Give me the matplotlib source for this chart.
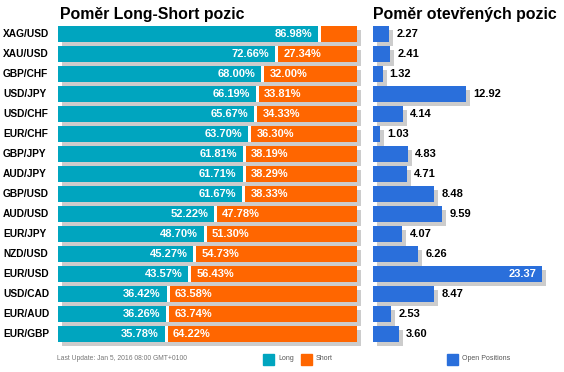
import matplotlib
matplotlib.use("Agg")
import matplotlib.pyplot as plt
import matplotlib.transforms as mtransforms
from matplotlib.patches import Rectangle

# data
pairs = ["XAG/USD", "XAU/USD", "GBP/CHF", "USD/JPY", "USD/CHF", "EUR/CHF",
         "GBP/JPY", "AUD/JPY", "GBP/USD", "AUD/USD", "EUR/JPY", "NZD/USD",
         "EUR/USD", "USD/CAD", "EUR/AUD", "EUR/GBP"]
long_pct = [86.98, 72.66, 68.00, 66.19, 65.67, 63.70, 61.81, 61.71,
            61.67, 52.22, 48.70, 45.27, 43.57, 36.42, 36.26, 35.78]
short_pct = [13.02, 27.34, 32.00, 33.81, 34.33, 36.30, 38.19, 38.29,
             38.33, 47.78, 51.30, 54.73, 56.43, 63.58, 63.74, 64.22]
open_pos = [2.27, 2.41, 1.32, 12.92, 4.14, 1.03, 4.83, 4.71,
            8.48, 9.59, 4.07, 6.26, 23.37, 8.47, 2.53, 3.60]

TEAL = "#00a5bf"
ORANGE = "#ff6600"
BLUE = "#2a6fdb"
SHADOW = "#cccccc"
FONT = "Liberation Sans"

W, H = 564, 372
fig = plt.figure(figsize=(W / 100, H / 100), dpi=100)


def px_axes(x0, y0, w, h):
    # osy zadane v pixelech od leveho horniho rohu
    return fig.add_axes([x0 / W, 1 - (y0 + h) / H, w / W, h / H])


def ftext(x, y, s, **kw):
    kw.setdefault("family", FONT)
    fig.text(x / W, 1 - y / H, s, **kw)


n = len(pairs)
rows = list(range(n))
bh = 0.83
gap = 1.0  # mezera mezi long a short (data units)

# levy panel - pomer long/short
ax1 = px_axes(58, 24, 299, 20 * n)
ax1.set_xlim(0, 100)
ax1.set_ylim(n - 0.5, -0.5)
ax1.axis("off")
sh1 = mtransforms.offset_copy(ax1.transData, fig=fig, x=4, y=-4, units="dots")
ax1.barh(rows, [l + s for l, s in zip(long_pct, short_pct)], height=bh,
         color=SHADOW, transform=sh1, clip_on=False, zorder=1)
ax1.barh(rows, long_pct, height=bh, color=TEAL, zorder=2)
ax1.barh(rows, [s - gap for s in short_pct], left=[l + gap for l in long_pct],
         height=bh, color=ORANGE, zorder=2)
ax1.barh(rows, [gap] * n, left=long_pct, height=bh, color="white", zorder=2)
for i, (l, s) in enumerate(zip(long_pct, short_pct)):
    ax1.annotate(f"{l:.2f}%", (l, i), xytext=(-6, 0), textcoords="offset pixels",
                 ha="right", va="center", color="white", fontsize=8,
                 fontweight="bold", family=FONT, zorder=3)
    if s > 15:
        ax1.annotate(f"{s:.2f}%", (l + gap, i), xytext=(5, 0),
                     textcoords="offset pixels", ha="left", va="center",
                     color="white", fontsize=8, fontweight="bold",
                     family=FONT, zorder=3)
    ftext(3, 34 + 20 * i, pairs[i], ha="left", va="center", fontsize=7.3,
          fontweight="bold", color="black")

# pravy panel - otevrene pozice
ax2 = px_axes(373, 24, 180, 20 * n)
ax2.set_xlim(0, 180 / 7.22)
ax2.set_ylim(n - 0.5, -0.5)
ax2.axis("off")
sh2 = mtransforms.offset_copy(ax2.transData, fig=fig, x=4, y=-4, units="dots")
ax2.barh(rows, open_pos, height=bh, color=SHADOW, transform=sh2,
         clip_on=False, zorder=1)
ax2.barh(rows, open_pos, height=bh, color=BLUE, zorder=2)
vmax = max(open_pos)
for i, v in enumerate(open_pos):
    if v == vmax:
        ax2.annotate(f"{v:.2f}", (v, i), xytext=(-5, 0), textcoords="offset pixels",
                     ha="right", va="center", color="white", fontsize=8,
                     fontweight="bold", family=FONT, zorder=3)
    else:
        ax2.annotate(f"{v:.2f}", (v, i), xytext=(7, 0), textcoords="offset pixels",
                     ha="left", va="center", color="black", fontsize=8,
                     fontweight="bold", family=FONT, zorder=3)

# nadpisy
ftext(60, 15, "Poměr Long-Short pozic", ha="left", va="center",
      fontsize=11.4, fontweight="bold")
ftext(373, 15, "Poměr otevřených pozic", ha="left", va="center",
      fontsize=11.4, fontweight="bold")

# paticka a legenda
ftext(57, 359, "Last Update: Jan 5, 2016 08:00 GMT+0100", ha="left",
      va="center", fontsize=4.9, color="#777777")
for x0, col, lab in [(263, TEAL, "Long"), (301, ORANGE, "Short"),
                     (447, BLUE, "Open Positions")]:
    fig.patches.append(Rectangle((x0 / W, 1 - 364.5 / H), 10.5 / W, 10.5 / H,
                                 transform=fig.transFigure, color=col))
    ftext(x0 + 15, 359, lab, ha="left", va="center", fontsize=5.0,
          color="#555555")

fig.savefig("out.png", dpi=100)
